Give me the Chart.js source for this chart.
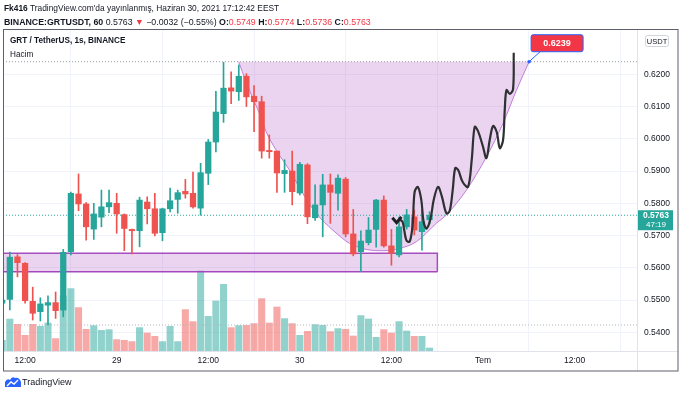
<!DOCTYPE html>
<html><head><meta charset="utf-8">
<script src="https://cdn.jsdelivr.net/npm/chart.js@4.4.0/dist/chart.umd.min.js"></script>
<style>
html,body{margin:0;padding:0;background:#fff;}
#wrap{position:relative;width:680px;height:395px;overflow:hidden;font-family:"Liberation Sans",Arial,sans-serif;color:#131722;}
canvas{position:absolute;left:0;top:0;}
.t{position:absolute;white-space:nowrap;z-index:2;line-height:12px;}
.r{color:#f23645;}
</style></head>
<body><div id="wrap">
<canvas id="c" width="680" height="395"></canvas>
<div class="t" style="left:4px;top:2px;font-size:8.4px;"><b>Fk416</b> TradingView.com'da yayınlanmış, Haziran 30, 2021 17:12:42 EEST</div>
<div class="t" style="left:4px;top:16px;font-size:8.8px;"><b>BINANCE:GRTUSDT, 60</b> 0.5763 <span class="r">▼</span> −0.0032 (−0.55%) <b>O:</b><span class="r">0.5749</span> <b>H:</b><span class="r">0.5774</span> <b>L:</b><span class="r">0.5736</span> <b>C:</b><span class="r">0.5763</span></div>
<div class="t" style="left:10px;top:35px;font-size:8.2px;font-weight:bold;">GRT / TetherUS, 1s, BINANCE</div>
<div class="t" style="left:10px;top:49px;font-size:8.2px;">Hacim</div>
<div class="t" style="left:5px;top:376px;"><svg width="16" height="12" viewBox="0 0 16 12"><path d="M0 11 L0 6 Q2 2 5 4 Q7 0 10 2 Q14 1 16 6 L16 11 Z" fill="#2962ff"/><path d="M2 10 L6 6 L9 8 L13 4" stroke="#fff" stroke-width="1.4" fill="none"/></svg></div>
<div class="t" style="left:22px;top:376px;font-size:9px;">TradingView</div>
</div>
<script>
// ---- data ----
const open  = [0.5490,0.5502,0.5634,0.5614,0.5496,0.5464,0.5484,0.5492,0.5469,0.5650,0.5829,0.5798,0.5720,0.5757,0.5789,0.5800,0.5765,0.5719,0.5715,0.5804,0.5783,0.5709,0.5783,0.5812,0.5837,0.5831,0.5785,0.5893,0.5990,0.6078,0.6158,0.6146,0.6194,0.6132,0.6115,0.5964,0.5962,0.5892,0.5900,0.5832,0.5919,0.5755,0.5795,0.5857,0.5831,0.5875,0.5705,0.5650,0.5678,0.5719,0.5810,0.5668,0.5640,0.5727,0.5758,0.5712,0.5749];
const high  = [0.5510,0.5649,0.5641,0.5616,0.5540,0.5507,0.5513,0.5525,0.5657,0.5835,0.5891,0.5802,0.5800,0.5841,0.5841,0.5831,0.5767,0.5720,0.5819,0.5820,0.5831,0.5785,0.5847,0.5841,0.5874,0.5897,0.5924,0.5998,0.6147,0.6237,0.6208,0.6229,0.6202,0.6165,0.6132,0.6012,0.5962,0.5935,0.5962,0.5927,0.5923,0.5857,0.5890,0.5891,0.5888,0.5880,0.5781,0.5715,0.5756,0.5812,0.5823,0.5719,0.5757,0.5781,0.5779,0.5779,0.5774];
const low   = [0.5480,0.5469,0.5572,0.5490,0.5438,0.5435,0.5423,0.5443,0.5448,0.5640,0.5777,0.5686,0.5688,0.5727,0.5771,0.5707,0.5653,0.5643,0.5665,0.5736,0.5699,0.5684,0.5773,0.5769,0.5816,0.5785,0.5763,0.5858,0.5959,0.6051,0.6109,0.6119,0.6100,0.6022,0.5940,0.5940,0.5834,0.5834,0.5795,0.5826,0.5737,0.5747,0.5696,0.5738,0.5779,0.5696,0.5637,0.5588,0.5671,0.5664,0.5664,0.5608,0.5634,0.5720,0.5702,0.5655,0.5736];
const close = [0.5500,0.5633,0.5616,0.5498,0.5459,0.5488,0.5492,0.5467,0.5648,0.5831,0.5798,0.5727,0.5767,0.5789,0.5802,0.5767,0.5722,0.5715,0.5810,0.5783,0.5707,0.5783,0.5808,0.5833,0.5829,0.5789,0.5895,0.5990,0.6083,0.6157,0.6148,0.6194,0.6130,0.6115,0.5962,0.5960,0.5894,0.5902,0.5836,0.5921,0.5758,0.5795,0.5857,0.5834,0.5878,0.5705,0.5643,0.5683,0.5717,0.5810,0.5668,0.5645,0.5727,0.5764,0.5717,0.5743,0.5763];
const volume = [107,320,267,157,267,247,280,124,550,624,434,217,254,207,214,114,107,94,234,180,147,94,247,94,414,294,800,347,500,667,234,254,257,274,524,280,440,324,274,157,197,264,257,194,224,217,150,354,320,137,214,180,294,200,147,147,30];
const tickPos = [3,15,27,39,51,63,75];
const tickLabels = ['12:00','29','12:00','30','12:00','Tem','12:00'];
const priceTicks = [0.54,0.55,0.56,0.57,0.58,0.59,0.60,0.61,0.62];
const targetPrice = 0.6239;
const lastPrice = 0.5763;
const countdown = '47:19';
const volumeRef = 260;
const zoneTop = 0.5645, zoneBottom = 0.5588, zoneStart = -1, zoneEnd = 57.02;
const cupX = [30.98,31.96,32.83,33.70,34.58,35.89,37.64,39.38,41.14,43.32,45.51,47.70,49.88,52.07,54.27,56.89,58.20,60.83,63.45,65.63,67.39,69.04];
const cupY = [0.6239,0.6177,0.6126,0.6079,0.6022,0.5965,0.5903,0.5831,0.5769,0.5717,0.5676,0.5657,0.5653,0.5660,0.5681,0.5738,0.5764,0.5841,0.5944,0.6048,0.6151,0.6239];
const checkX = [51.12,51.68,52.30];
const checkY = [0.5755,0.5740,0.5758];
const brushX = [52.10,52.47,52.95,53.39,53.78,54.04,54.47,54.92,55.22,55.62,56.14,56.54,57.10,57.59,58.20,58.63,59.03,59.36,59.75,60.34,61.04,61.52,61.91,62.35,62.97,63.45,63.88,64.32,64.80,65.20,65.63,65.85,66.08,66.51,66.94,67.03];
const brushY = [0.5750,0.5742,0.5686,0.5681,0.5733,0.5835,0.5851,0.5810,0.5742,0.5722,0.5754,0.5810,0.5851,0.5823,0.5769,0.5776,0.5841,0.5909,0.5903,0.5866,0.5851,0.5934,0.6037,0.6024,0.5978,0.5940,0.5996,0.6040,0.6021,0.5971,0.5996,0.6089,0.6151,0.6139,0.6154,0.6267];

// ---- styles ----
const UP = '#26a69a', DN = '#ef5350';
const idx = close.map((_, i) => i);
const up = idx.map(i => close[i] >= open[i]);
const pts = (xs, ys) => xs.map((x, i) => ({x, y: ys[i]}));
const hline = (v) => [{x: -5, y: v}, {x: 100, y: v}];

Chart.defaults.font.family = '"Liberation Sans", Arial, sans-serif';
Chart.defaults.font.size = 8.5;
Chart.defaults.color = '#131722';

const extras = {
  id: 'extras',
  afterDraw(chart) {
    const ctx = chart.ctx, a = chart.chartArea, sx = chart.scales.x, sy = chart.scales.y;
    ctx.save();
    ctx.strokeStyle = '#e0e3eb'; ctx.lineWidth = 1;
    ctx.beginPath();
    ctx.moveTo(a.right + 0.5, a.bottom); ctx.lineTo(a.right + 0.5, 371);
    ctx.moveTo(a.right, a.bottom + 0.5); ctx.lineTo(678, a.bottom + 0.5);
    ctx.stroke();
    ctx.strokeStyle = '#5d606b';
    ctx.strokeRect(3.5, 29.5, 674.5, 341.5);
    ctx.strokeStyle = '#d1d4dc'; ctx.fillStyle = '#fff';
    ctx.beginPath(); ctx.roundRect(645.5, 35.5, 23, 11, 2); ctx.fill(); ctx.stroke();
    ctx.fillStyle = '#131722'; ctx.font = '7.5px "Liberation Sans", Arial'; ctx.textAlign = 'center'; ctx.textBaseline = 'middle';
    ctx.fillText('USDT', 657, 41.5);
    const py = sy.getPixelForValue(lastPrice);
    ctx.fillStyle = UP;
    ctx.fillRect(a.right + 1, py - 5, 35, 20);
    ctx.fillStyle = '#fff'; ctx.textAlign = 'left';
    ctx.font = 'bold 8.5px "Liberation Sans", Arial';
    ctx.fillText(lastPrice.toFixed(4), a.right + 6, py + 0.5);
    ctx.font = '8px "Liberation Sans", Arial';
    ctx.fillText(countdown, a.right + 9, py + 10);
    const ax = sx.getPixelForValue(cupX[cupX.length - 1]);
    const ay = sy.getPixelForValue(targetPrice);
    ctx.strokeStyle = '#2962ff'; ctx.lineWidth = 1;
    ctx.beginPath(); ctx.moveTo(ax, ay); ctx.lineTo(ax + 11, ay - 10); ctx.stroke();
    ctx.fillStyle = '#2962ff'; ctx.beginPath(); ctx.arc(ax, ay, 1.8, 0, Math.PI * 2); ctx.fill();
    ctx.fillStyle = '#f23645';
    ctx.beginPath(); ctx.roundRect(ax + 2, ay - 27, 52, 17, 2); ctx.fill();
    ctx.strokeStyle = '#2962ff'; ctx.stroke();
    ctx.fillStyle = '#fff'; ctx.textAlign = 'center';
    ctx.font = 'bold 9px "Liberation Sans", Arial';
    ctx.fillText(targetPrice.toFixed(4), ax + 28, ay - 18);
    ctx.restore();
  }
};

new Chart(document.getElementById('c'), {
  type: 'bar',
  data: {
    datasets: [
      {type: 'bar', data: idx.map(i => ({x: i, y: volume[i]})), yAxisID: 'y2', grouped: false, barThickness: 6.4,
       backgroundColor: up.map(u => u ? 'rgba(38,166,154,0.5)' : 'rgba(239,83,80,0.5)'), order: 20},
      {type: 'line', data: hline(volumeRef), yAxisID: 'y2', borderColor: '#b2b5be', borderWidth: 1, borderDash: [1, 2], pointRadius: 0, order: 19},
      {type: 'line', data: [{x: zoneStart, y: zoneTop}, {x: zoneEnd, y: zoneTop}, {x: zoneEnd, y: zoneBottom}],
       borderColor: '#a64dbf', borderWidth: 1.5, pointRadius: 0, fill: {value: zoneBottom}, backgroundColor: 'rgba(156,39,176,0.2)', order: 15},
      {type: 'line', data: [{x: zoneStart, y: zoneBottom}, {x: zoneEnd, y: zoneBottom}], borderColor: '#a64dbf', borderWidth: 1.5, pointRadius: 0, order: 15},
      {type: 'line', data: pts(cupX, cupY), borderColor: '#c27bd8', borderWidth: 1, pointRadius: 0, cubicInterpolationMode: 'monotone',
       fill: {value: targetPrice}, backgroundColor: 'rgba(156,39,176,0.2)', order: 14},
      {type: 'line', data: hline(targetPrice), borderColor: '#9598a1', borderWidth: 1, borderDash: [1, 2], pointRadius: 0, order: 13},
      {type: 'line', data: hline(lastPrice), borderColor: UP, borderWidth: 1, borderDash: [1, 2], pointRadius: 0, order: 12},
      {type: 'bar', data: idx.map(i => ({x: i, y: [low[i], high[i]]})), grouped: false, barThickness: 1,
       backgroundColor: up.map(u => u ? UP : DN), order: 6},
      {type: 'bar', data: idx.map(i => ({x: i, y: [open[i], close[i]]})), grouped: false, barThickness: 5.6, minBarLength: 1,
       backgroundColor: up.map(u => u ? UP : DN), order: 5},
      {type: 'line', data: pts(brushX, brushY), borderColor: '#2f3033', borderWidth: 2.2, pointRadius: 0, tension: 0.35, order: 2},
      {type: 'line', data: pts(checkX, checkY), borderColor: '#1e1f22', borderWidth: 3, pointRadius: 0, tension: 0, order: 1}
    ]
  },
  options: {
    responsive: false, animation: false, devicePixelRatio: 1,
    layout: {padding: {left: 4, top: 30, right: 2, bottom: 24}},
    plugins: {legend: {display: false}, tooltip: {enabled: false}},
    scales: {
      x: {type: 'linear', min: 0.236, max: 83.18, offset: false,
        afterBuildTicks: s => { s.ticks = tickPos.map(v => ({value: v})); },
        afterFit: s => { s.height = 20; },
        ticks: {autoSkip: false, maxRotation: 0, padding: 5, callback: v => tickLabels[tickPos.indexOf(v)]},
        grid: {color: '#f0f3fa', drawTicks: false},
        border: {color: '#e0e3eb'}},
      y: {position: 'right', min: 0.5342, max: 0.63374,
        afterBuildTicks: s => { s.ticks = priceTicks.map(v => ({value: v})); },
        afterFit: s => { s.width = 41; },
        ticks: {padding: 7, callback: v => Number(v).toFixed(4)},
        grid: {color: '#f0f3fa', drawTicks: false},
        border: {color: '#e0e3eb'}},
      y2: {display: false, min: 0, max: 3210}
    }
  },
  plugins: [extras]
});
</script>
</body></html>
